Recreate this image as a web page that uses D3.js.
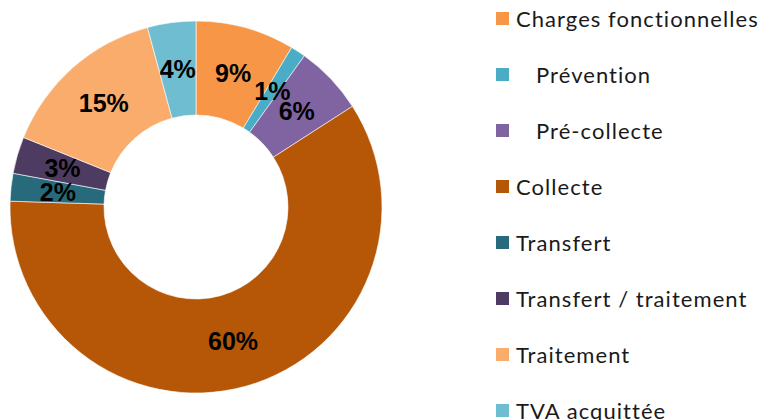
<!DOCTYPE html>
<html>
<head>
<meta charset="utf-8">
<script src="https://cdn.jsdelivr.net/npm/d3@7"></script>
<style>
  body { margin: 0; background: #fff; }
</style>
</head>
<body>
<div id="chart"></div>
<script>
// data
const categories = ["Charges fonctionnelles", "   Prévention", "   Pré-collecte", "Collecte",
    "Transfert", "Transfert / traitement", "Traitement", "TVA acquittée"];
const shares = [8.6, 1.3, 6.0, 59.6, 2.4, 3.2, 14.7, 4.2];
const labels = ["9%", "1%", "6%", "60%", "2%", "3%", "15%", "4%"];
const colors = ["#F79646", "#4BACC6", "#8064A2", "#B65708",
    "#276A7C", "#4D3B62", "#F9AC6C", "#6FBDD1"];

const width = 762, height = 420;
const cx = 196, cy = 207, outerR = 186, innerR = 92;

let svg = d3.select("#chart").append("svg")
    .attr("width", width).attr("height", height);

let pie = d3.pie().sort(null).value(d => d)(shares);
let arc = d3.arc().innerRadius(innerR).outerRadius(outerR);

let g = svg.append("g").attr("transform", `translate(${cx},${cy})`);
g.selectAll("path").data(pie).enter().append("path")
    .attr("d", arc)
    .attr("fill", (d, i) => colors[i])
    .attr("stroke", "#fff")
    .attr("stroke-width", 0.6);

// percent labels
g.selectAll("text").data(pie).enter().append("text")
    .attr("x", d => arc.centroid(d)[0])
    .attr("y", d => arc.centroid(d)[1])
    .attr("dy", "0.36em")
    .attr("text-anchor", "middle")
    .style("font-family", "'Liberation Sans', Arial, sans-serif")
    .style("font-weight", "bold")
    .style("font-size", "25px")
    .attr("fill", "#000")
    .text((d, i) => labels[i]);

// legend
let legend = svg.append("g").attr("transform", "translate(496, 0)");
let rows = legend.selectAll("g").data(categories).enter().append("g")
    .attr("transform", (d, i) => `translate(0, ${19 + i * 56})`);
rows.append("rect")
    .attr("x", 0).attr("y", -7)
    .attr("width", 13).attr("height", 13)
    .attr("fill", (d, i) => colors[i]);
rows.append("text")
    .attr("x", 20).attr("dy", "0.35em")
    .attr("xml:space", "preserve")
    .style("white-space", "pre")
    .style("font-family", "Lato, 'Open Sans', sans-serif")
    .style("font-size", "22px")
    .style("letter-spacing", "1.05px")
    .attr("fill", "#1a1a1a")
    .text(d => d);
</script>
</body>
</html>
